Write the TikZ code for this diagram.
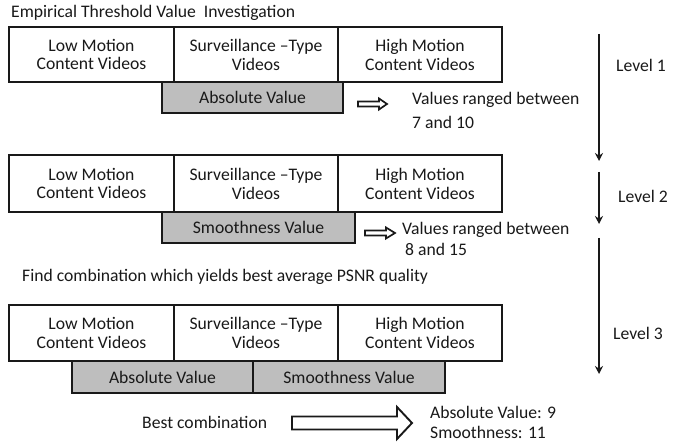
\documentclass[tikz,border=0pt]{standalone}
\usepackage{fontspec}
\setmainfont{Carlito}
\usetikzlibrary{arrows.meta}
\definecolor{ink}{RGB}{25,25,25}
\definecolor{boxgray}{RGB}{190,190,190}
\begin{document}
\begin{tikzpicture}[x=1bp,y=-1bp,
  every node/.style={font=\fontsize{17.7}{19}\selectfont, text=ink, inner sep=0pt},
  cell/.style={draw=ink, line width=1.8bp, fill=white, align=center},
  valbox/.style={draw=ink, line width=1.8bp, fill=boxgray, align=center},
  lbl/.style={anchor=west},
  levarrow/.style={draw=ink, line width=2.4bp, -{Stealth[length=8bp,width=8bp]}},
  hollow/.style={draw=ink, line width=1.7bp, fill=white, line join=miter}
]
\useasboundingbox (0,0) rectangle (678,442);

\node[lbl] (title) at (11,13) {Empirical Threshold Value\ \ Investigation};

% ---------- Level 1 ----------
\node[valbox, minimum width=181bp, minimum height=31bp] (abs1) at (252.5,97.5) {Absolute Value};
\node[cell, minimum width=165bp, minimum height=55bp] (low1) at (91.5,54.5) {Low Motion\\Content Videos};
\node[cell, minimum width=164bp, minimum height=55bp] (sur1) at (256,54.5) {Surveillance --Type\\Videos};
\node[cell, minimum width=164bp, minimum height=55bp] (high1) at (420,54.5) {High Motion\\Content Videos};
\draw[hollow] (358,101.5) -- (379,101.5) -- (379,98.5) -- (387,104) -- (379,109.5) -- (379,106.5) -- (358,106.5) -- cycle;
\node[lbl] (r1a) at (412,100) {Values ranged between};
\node[lbl] (r1b) at (412,122) {7 and 10};

% ---------- Level 2 ----------
\node[valbox, minimum width=193bp, minimum height=31bp] (smo2) at (258.5,227.5) {Smoothness Value};
\node[cell, minimum width=165bp, minimum height=57bp] (low2) at (91.5,183.5) {Low Motion\\Content Videos};
\node[cell, minimum width=164bp, minimum height=57bp] (sur2) at (256,183.5) {Surveillance --Type\\Videos};
\node[cell, minimum width=164bp, minimum height=57bp] (high2) at (420,183.5) {High Motion\\Content Videos};
\draw[hollow] (365,230.5) -- (386,230.5) -- (386,227.5) -- (395,233) -- (386,238.5) -- (386,235.5) -- (365,235.5) -- cycle;
\node[lbl] (r2a) at (402,230) {Values ranged between};
\node[lbl] (r2b) at (405,249) {8 and 15};

\node[lbl] (find) at (22,277) {Find combination which yields best average PSNR quality};

% ---------- Level 3 ----------
\node[valbox, minimum width=181bp, minimum height=32bp] (abs3) at (162.5,377) {Absolute Value};
\node[valbox, minimum width=192bp, minimum height=32bp] (smo3) at (349,377) {Smoothness Value};
\node[cell, minimum width=165bp, minimum height=56bp] (low3) at (91.5,333) {Low Motion\\Content Videos};
\node[cell, minimum width=164bp, minimum height=56bp] (sur3) at (256,333) {Surveillance --Type\\Videos};
\node[cell, minimum width=164bp, minimum height=56bp] (high3) at (420,333) {High Motion\\Content Videos};

\node[lbl] (best) at (142,422) {Best combination};
\draw[hollow, line width=1.9bp] (292,416.5) -- (397,416.5) -- (397,407) -- (412,423) -- (397,439) -- (397,429.5) -- (292,429.5) -- cycle;
\node[lbl] (res1) at (430,412) {Absolute Value: 9};
\node[lbl] (res2) at (430,432) {Smoothness: 11};

% ---------- level arrows ----------
\coordinate (a1s) at (599,34);
\coordinate (a1e) at (599,161);
\coordinate (a2s) at (599,172);
\coordinate (a2e) at (599,224);
\coordinate (a3s) at (599,238);
\coordinate (a3e) at (599,374);
\draw[levarrow] (a1s) -- (a1e);
\draw[levarrow] (a2s) -- (a2e);
\draw[levarrow] (a3s) -- (a3e);
\node[lbl] (lev1) at (616,65) {Level 1};
\node[lbl] (lev2) at (618,196) {Level 2};
\node[lbl] (lev3) at (613,333) {Level 3};
\end{tikzpicture}
\end{document}
